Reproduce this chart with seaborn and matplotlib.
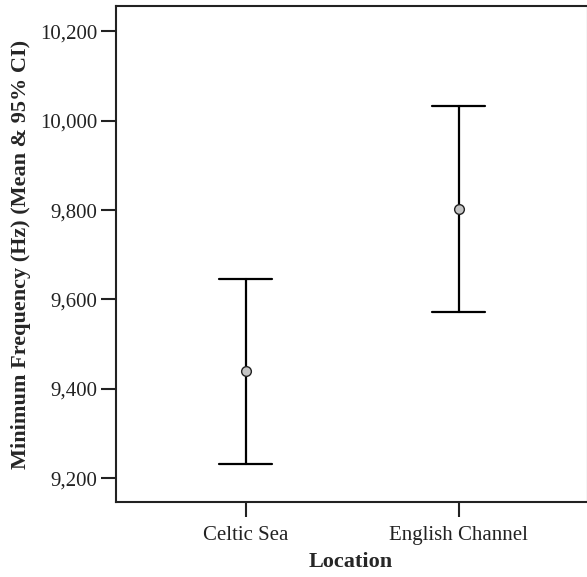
import numpy as np
import pandas as pd
import matplotlib
matplotlib.use("Agg")
import matplotlib.pyplot as plt
from matplotlib.ticker import StrMethodFormatter
import seaborn as sns

# values (mean and 95% CI)
locations = ["Celtic Sea", "English Channel"]
means = [9439, 9802]
ci_lower = [9232, 9571]
ci_upper = [9646, 10034]

# long table: lower / mean / upper per location -> median = mean, min/max = CI
rows = []
for loc, lo, m, hi in zip(locations, ci_lower, means, ci_upper):
    for v in (lo, m, hi):
        rows.append({"Location": loc, "freq": v})
df = pd.DataFrame(rows)

sns.set_style("ticks")
plt.rcParams["font.family"] = ["Liberation Serif", "DejaVu Serif"]

fig = plt.figure(figsize=(5.87, 5.77), dpi=100)
ax = fig.add_axes([115.7 / 587, (577 - 502.3) / 577, (586.5 - 115.7) / 587, (502.3 - 6) / 577])

sns.pointplot(
    data=df, x="Location", y="freq", order=locations,
    estimator="median", errorbar=lambda v: (v.min(), v.max()),
    linestyle="none", color="black", capsize=0.25,
    marker="o", markersize=7,
    err_kws={"linewidth": 1.6, "color": "black", "zorder": 2},
    ax=ax,
)

# grey filled markers drawn above the error bars
for ln in ax.lines:
    if ln.get_marker() == "o":
        ln.set_markerfacecolor("#c4c4c4")
        ln.set_markeredgecolor("#222222")
        ln.set_markeredgewidth(1.0)
        ln.set_zorder(5)

ax.set_xlim(-0.61, 1.6)
ax.set_ylim(9146, 10257)
ax.set_yticks([9200, 9400, 9600, 9800, 10000, 10200])
ax.yaxis.set_major_formatter(StrMethodFormatter("{x:,.0f}"))

ax.set_xlabel("Location", fontsize=16, fontweight="bold", labelpad=5)
ax.set_ylabel("Minimum Frequency (Hz) (Mean & 95% CI)", fontsize=16,
              fontweight="bold", labelpad=6)
ax.tick_params(axis="both", labelsize=15, length=11, width=1.5,
               color="#222222", labelcolor="#222222", pad=2.5)
ax.tick_params(axis="x", pad=6)

for side in ["left", "bottom", "top"]:
    ax.spines[side].set_visible(True)
    ax.spines[side].set_linewidth(1.5)
    ax.spines[side].set_color("#222222")
ax.spines["right"].set_visible(True)
ax.spines["right"].set_linewidth(1.0)
ax.spines["right"].set_color("#d0d0d0")
ax.grid(False)

fig.savefig("out.png", dpi=100)
